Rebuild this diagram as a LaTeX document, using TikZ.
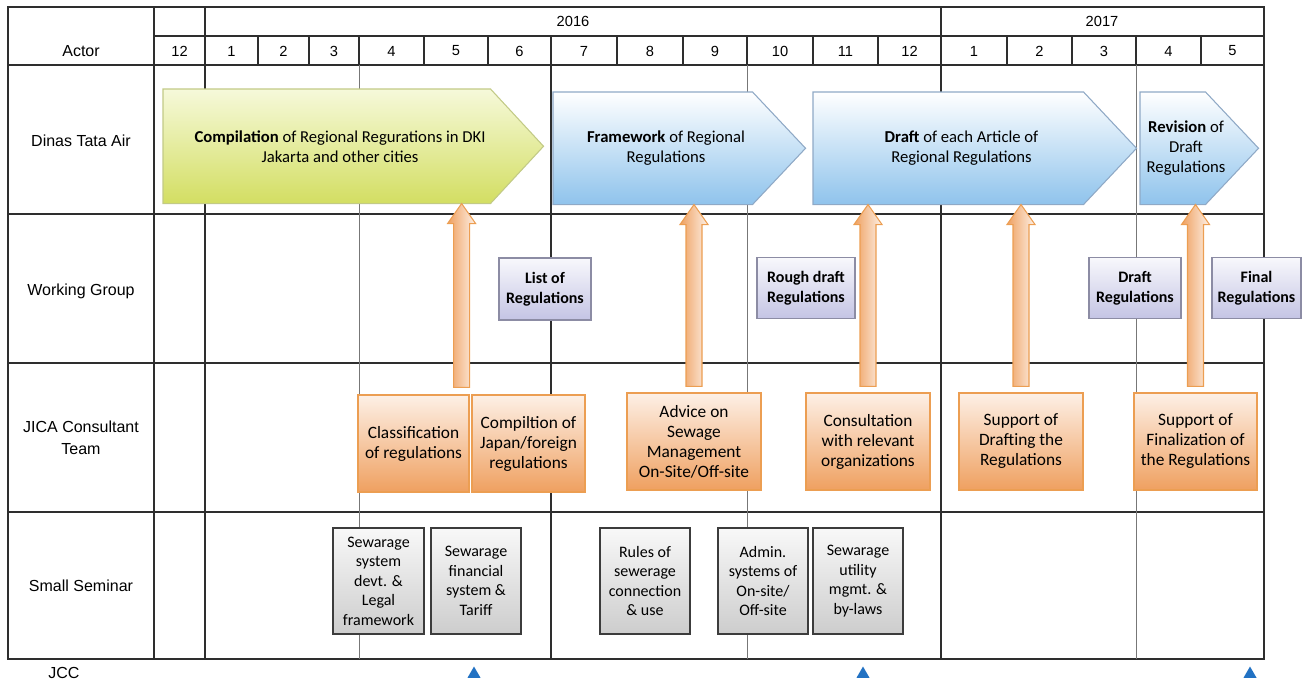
\documentclass[tikz,border=0pt]{standalone}
\usepackage{fontspec}
\setmainfont{Carlito}
\newfontfamily\arialf{Liberation Sans}
\usetikzlibrary{calc,shapes.geometric}

\newdimen\pxu \pxu=0.75pt
\pgfdeclarelayer{front}
\pgfsetlayers{main,front}

\definecolor{gridC}{HTML}{2E2E2E}
\definecolor{yelTop}{HTML}{F6F9DA}
\definecolor{yelBot}{HTML}{D3DE62}
\definecolor{yelEdge}{HTML}{C2CA86}
\definecolor{bluBot}{HTML}{8FC3EC}
\definecolor{bluEdge}{HTML}{8FA9C6}
\definecolor{orgTop}{HTML}{FDF0E6}
\definecolor{orgBot}{HTML}{EFA060}
\definecolor{orgEdge}{HTML}{EC9E52}
\definecolor{lavTop}{HTML}{F8F8FC}
\definecolor{lavBot}{HTML}{C4C4E4}
\definecolor{lavEdge}{HTML}{8C8CA4}
\definecolor{gTop}{HTML}{F8F8F8}
\definecolor{gBot}{HTML}{CDCDCD}
\definecolor{gEdge}{HTML}{3C3C3C}
\definecolor{triBlue}{HTML}{2272C3}

\tikzset{
  gridline/.style={draw=gridC, line width=1.1pt},
  quarterline/.style={draw=gridC!65, line width=0.6pt},
  lab/.style={font=\arialf\fontsize{12}{16.5}\selectfont, align=center, inner sep=0pt},
  monthlab/.style={font=\arialf\fontsize{11}{13}\selectfont, inner sep=0pt},
  chev/.style={anchor=north west, inner sep=0pt, align=center, font=\fontsize{12.5}{15}\selectfont},
  chevyel/.style={top color=yelTop, bottom color=yelBot, draw=yelEdge, line width=0.8pt},
  chevblue/.style={top color=white, bottom color=bluBot, draw=bluEdge, line width=0.8pt},
  jbox/.style={draw=orgEdge, line width=0.9pt, top color=orgTop, bottom color=orgBot, align=center, inner sep=2pt, font=\fontsize{13}{15}\selectfont},
  wbox/.style={draw=lavEdge, line width=0.9pt, top color=lavTop, bottom color=lavBot, align=center, inner sep=2pt, font=\bfseries\fontsize{12}{15}\selectfont},
  sbox/.style={draw=gEdge, line width=0.9pt, top color=gTop, bottom color=gBot, align=center, inner sep=2pt, font=\fontsize{12}{14.6}\selectfont},
  uparrow/.style={left color=orgBot, right color=orgTop, draw=orgEdge, line width=0.8pt},
  jcctri/.style={regular polygon, regular polygon sides=3, fill=triBlue, inner sep=0pt, minimum size=15\pxu}
}

% pentagon under a chevron node (node text stays on top)
\newcommand\chevshape[2]{%
  \path[#2] (#1.north west) -- ($(#1.north east)+(-26.5,0)$) -- ($(#1.east)+(26.5,0)$)
    -- ($(#1.south east)+(-26.5,0)$) -- (#1.south west) -- cycle;}

% block arrow from a point up to the bottom of a chevron
\newcommand\uparr[2]{%
  \path[uparrow] let \p1=(#1), \p2=(#2) in
    (\x1-6pt,\y1) -- (\x1-6pt,\y2-15pt) -- (\x1-10.5pt,\y2-15pt) -- (\x1,\y2)
    -- (\x1+10.5pt,\y2-15pt) -- (\x1+6pt,\y2-15pt) -- (\x1+6pt,\y1) -- cycle;}

\begin{document}
\begin{tikzpicture}[x=0.75pt,y=-0.75pt]
  \useasboundingbox (0,0) rectangle (1306,683);

  % TABLE
  \draw[gridline] (8,7) rectangle (1264,659);
  \draw[gridline] (154,36) -- (1264,36);
  \draw[gridline] (8,65) -- (1264,65) (8,214) -- (1264,214)
                  (8,363) -- (1264,363) (8,512) -- (1264,512);
  \draw[gridline] (154,7) -- (154,659) (205,7) -- (205,659)
                  (941,7) -- (941,659) (551,36) -- (551,659);
  \draw[quarterline] (359,65) -- (359,659) (747,65) -- (747,659) (1136,65) -- (1136,659);

  % years and months
  \node[monthlab] (y2016) at (573,21) {2016};
  \node[monthlab] (y2017) at (1102,21) {2017};
  \foreach \xa/\xb/\mo [count=\i] in {154/205/12,205/258/1,258/309/2,309/359/3,
      359/424/4,424/488/5,488/551/6,551/617/7,617/683/8,683/747/9,747/813/10,
      813/878/11,878/941/12,941/1007/1,1007/1072/2,1072/1136/3,1136/1201/4,1201/1264/5}
  {
    \node[monthlab] (mon\i) at ({(\xa+\xb)/2},51) {\mo};
    \draw[gridline] (\xb,36) -- (\xb,65);
  }

  % ACTORS
  \node[lab] (actor) at (81,51)  {Actor};
  \node[lab] (dta)   at (81,141) {Dinas Tata Air};
  \node[lab] (wg)    at (81,291) {Working Group};
  \node[lab] (jica)  at (81,438) {JICA Consultant\\Team};
  \node[lab] (ss)    at (81,586) {Small Seminar};
  \node[lab] (jcc)   at (64,673) {JCC};

  % DINAS TATA AIR
  \begin{pgfonlayer}{front}
    \node[chev, minimum width=353.5\pxu, minimum height=114\pxu] (compdki) at (163,89)
      {\textbf{Compilation} of Regional Regurations in DKI\\Jakarta and other cities};
    \node[chev, minimum width=225.5\pxu, minimum height=112\pxu] (frame) at (553,92)
      {\textbf{Framework} of Regional\\Regulations};
    \node[chev, minimum width=296.5\pxu, minimum height=112\pxu] (draftart) at (813,92)
      {\textbf{Draft} of each Article of\\Regional Regulations};
    \node[chev, minimum width=91.5\pxu, minimum height=112\pxu] (revis) at (1140,92)
      {\textbf{Revision} of\\Draft\\Regulations};
  \end{pgfonlayer}
  \chevshape{compdki}{chevyel}
  \chevshape{frame}{chevblue}
  \chevshape{draftart}{chevblue}
  \chevshape{revis}{chevblue}

  % WORKING GROUP
  \node[wbox, minimum width=92\pxu, minimum height=62\pxu] (listreg)  at (545,289)    {List of\\Regulations};
  \node[wbox, minimum width=98\pxu, minimum height=61\pxu] (roughd)   at (806,288)    {Rough draft\\Regulations};
  \node[wbox, minimum width=92\pxu, minimum height=61\pxu] (draftreg) at (1135,288)   {Draft\\Regulations};
  \node[wbox, minimum width=89\pxu, minimum height=61\pxu] (finalreg) at (1256.5,288) {Final\\Regulations};

  % JICA CONSULTANT TEAM
  \node[jbox, minimum width=111\pxu, minimum height=97\pxu] (classif)   at (413.5,443.5) {Classification\\of regulations};
  \node[jbox, minimum width=113\pxu, minimum height=97\pxu] (compj)     at (528.5,443.5) {Compiltion of\\Japan/foreign\\regulations};
  \node[jbox, minimum width=134\pxu, minimum height=97\pxu] (advice)    at (694,441.5)   {Advice on\\Sewage\\Management\\On-Site/Off-site};
  \node[jbox, minimum width=124\pxu, minimum height=97\pxu] (consult)   at (868,441.5)   {Consultation\\with relevant\\organizations};
  \node[jbox, minimum width=124\pxu, minimum height=97\pxu] (suppdraft) at (1021,441.5)  {Support of\\Drafting the\\Regulations};
  \node[jbox, minimum width=123\pxu, minimum height=97\pxu] (suppfin)   at (1195.5,441.5){Support of\\Finalization of\\the Regulations};

  % SMALL SEMINAR
  \node[sbox, minimum width=91\pxu, minimum height=106\pxu] (sem1) at (378.5,581) {Sewarage\\system\\devt. \&\\Legal\\framework};
  \node[sbox, minimum width=90\pxu, minimum height=106\pxu] (sem2) at (476,581)   {Sewarage\\financial\\system \&\\Tariff};
  \node[sbox, minimum width=90\pxu, minimum height=106\pxu] (sem3) at (645,581)   {Rules of\\sewerage\\connection\\\& use};
  \node[sbox, minimum width=90\pxu, minimum height=106\pxu] (sem4) at (763,581)   {Admin.\\systems of\\On-site/\\Off-site};
  \node[sbox, minimum width=90\pxu, minimum height=106\pxu] (sem5) at (858,581)   {Sewarage\\utility\\mgmt. \&\\by-laws};

  % JCC
  \node[jcctri] (jcc1) at (474,674) {};
  \node[jcctri] (jcc2) at (863,674) {};
  \node[jcctri] (jcc3) at (1250,674) {};

  % ARROWS
  \uparr{$(classif.north east)+(-8,-7)$}{compdki.south}
  \uparr{$(advice.north)+(0,-6)$}{frame.south}
  \uparr{$(consult.north)+(0,-6)$}{draftart.south}
  \uparr{$(suppdraft.north)+(0,-6)$}{draftart.south}
  \uparr{$(suppfin.north)+(0,-6)$}{revis.south}
\end{tikzpicture}
\end{document}
